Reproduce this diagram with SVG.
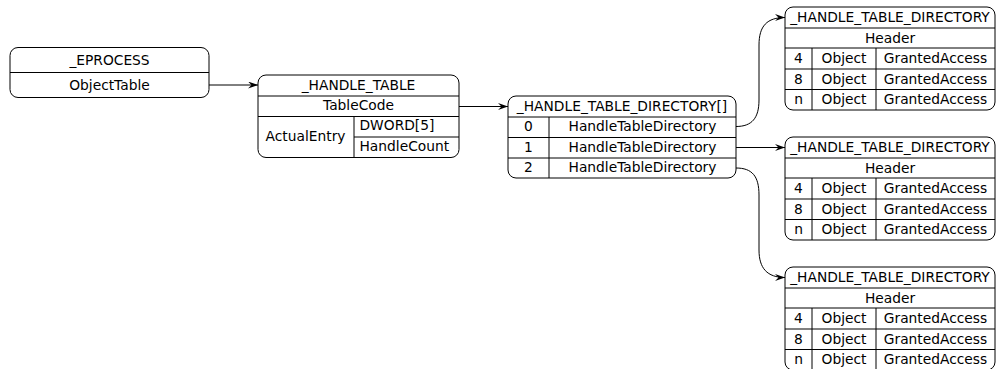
<svg xmlns="http://www.w3.org/2000/svg" width="996" height="369" viewBox="0 0 996 369">
<style>
.b{fill:#fff;stroke:#000;stroke-width:1}
.l{stroke:#000;stroke-width:1;fill:none}
text{font-family:"DejaVu Sans","Liberation Sans",sans-serif;font-size:13.8px;fill:#000;text-anchor:middle}
text.s{text-anchor:start}
.c{stroke:#000;stroke-width:1;fill:none;marker-end:url(#ah)}
</style>
<defs>
<marker id="ah" viewBox="0 0 10 7" refX="10" refY="3.5" markerWidth="10" markerHeight="7" markerUnits="userSpaceOnUse" orient="auto">
<path d="M0,0 L10,3.5 L0,7 L3.5,3.5 Z" fill="#000"/>
</marker>
</defs>
<rect width="996" height="369" fill="#fff"/>
<g id="connectors">
<path class="c" d="M209,85 L258,85"/>
<path class="c" d="M459,106.5 L508,106.5"/>
<path class="c" d="M736,126.5 C752,126.5 759,118 759,100 L759,45 C759,26 767,17.5 785,17.5"/>
<path class="c" d="M736,147.5 L785,147.5"/>
<path class="c" d="M736,168 C752,168 759,176 759,195 L759,250 C759,268 767,277.5 785,277.5"/>
</g>
<g id="eprocess">
<rect class="b" x="10" y="47.5" width="199" height="50" rx="8"/>
<path class="l" d="M10,72.5 H209"/>
<text x="109.5" y="64.5">_EPROCESS</text>
<text x="109.5" y="89.5">ObjectTable</text>
</g>
<g id="handle_table">
<rect class="b" x="258" y="75" width="201" height="82.5" rx="8"/>
<path class="l" d="M258,96 H459 M258,116.5 H459 M354,137 H459 M354,116.5 V157.5"/>
<text x="358.5" y="89.5">_HANDLE_TABLE</text>
<text x="358.5" y="110">TableCode</text>
<text x="305.5" y="141">ActualEntry</text>
<text class="s" x="359.5" y="129.5">DWORD[5]</text>
<text class="s" x="359.5" y="150.5">HandleCount</text>
</g>
<g id="directory_array">
<rect class="b" x="508" y="96" width="228" height="82" rx="8"/>
<path class="l" d="M508,117 H736 M508,137.5 H736 M508,158 H736 M549,117 V178"/>
<text x="622" y="110.5">_HANDLE_TABLE_DIRECTORY[]</text>
<text x="528.5" y="131">0</text>
<text x="642.5" y="131">HandleTableDirectory</text>
<text x="528.5" y="151.5">1</text>
<text x="642.5" y="151.5">HandleTableDirectory</text>
<text x="528.5" y="172">2</text>
<text x="642.5" y="172">HandleTableDirectory</text>
</g>
<g id="directory0" transform="translate(0,7)">
<rect class="b" x="785" y="0" width="210" height="103" rx="8"/>
<path class="l" d="M785,21 H995 M785,41 H995 M785,62 H995 M785,82.5 H995 M812,41 V103 M876,41 V103"/>
<text x="890" y="15">_HANDLE_TABLE_DIRECTORY</text>
<text x="890" y="35.5">Header</text>
<text x="798.5" y="56">4</text><text x="844" y="56">Object</text><text x="935.5" y="56">GrantedAccess</text>
<text x="798.5" y="76.5">8</text><text x="844" y="76.5">Object</text><text x="935.5" y="76.5">GrantedAccess</text>
<text x="798.5" y="97">n</text><text x="844" y="97">Object</text><text x="935.5" y="97">GrantedAccess</text>
</g>
<g id="directory1" transform="translate(0,137)">
<rect class="b" x="785" y="0" width="210" height="103" rx="8"/>
<path class="l" d="M785,21 H995 M785,41 H995 M785,62 H995 M785,82.5 H995 M812,41 V103 M876,41 V103"/>
<text x="890" y="15">_HANDLE_TABLE_DIRECTORY</text>
<text x="890" y="35.5">Header</text>
<text x="798.5" y="56">4</text><text x="844" y="56">Object</text><text x="935.5" y="56">GrantedAccess</text>
<text x="798.5" y="76.5">8</text><text x="844" y="76.5">Object</text><text x="935.5" y="76.5">GrantedAccess</text>
<text x="798.5" y="97">n</text><text x="844" y="97">Object</text><text x="935.5" y="97">GrantedAccess</text>
</g>
<g id="directory2" transform="translate(0,267)">
<rect class="b" x="785" y="0" width="210" height="103" rx="8"/>
<path class="l" d="M785,21 H995 M785,41 H995 M785,62 H995 M785,82.5 H995 M812,41 V103 M876,41 V103"/>
<text x="890" y="15">_HANDLE_TABLE_DIRECTORY</text>
<text x="890" y="35.5">Header</text>
<text x="798.5" y="56">4</text><text x="844" y="56">Object</text><text x="935.5" y="56">GrantedAccess</text>
<text x="798.5" y="76.5">8</text><text x="844" y="76.5">Object</text><text x="935.5" y="76.5">GrantedAccess</text>
<text x="798.5" y="97">n</text><text x="844" y="97">Object</text><text x="935.5" y="97">GrantedAccess</text>
</g>
</svg>
